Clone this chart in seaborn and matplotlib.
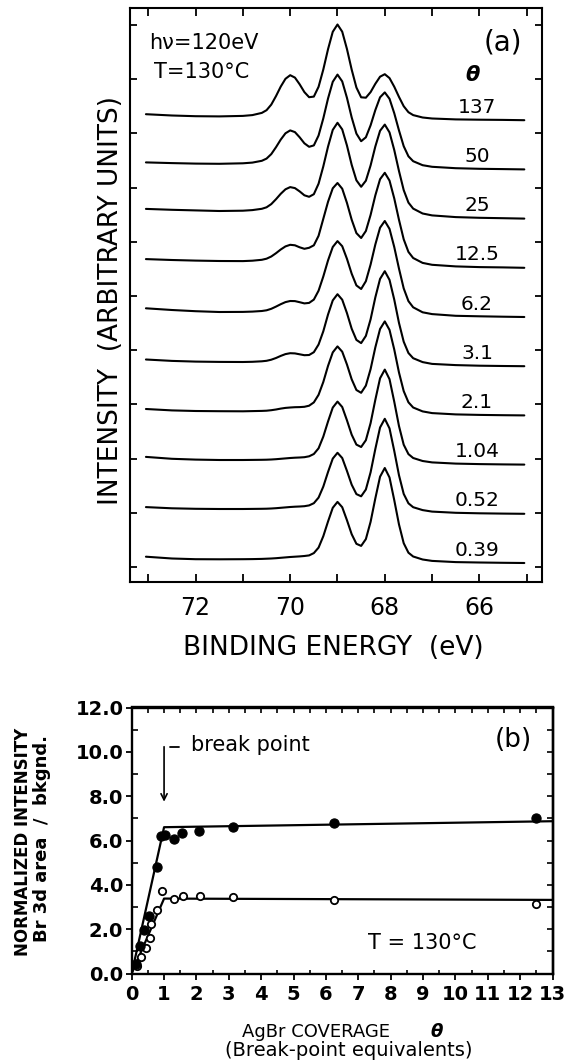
import numpy as np
import pandas as pd
import matplotlib
matplotlib.use("Agg")
import matplotlib.pyplot as plt
import seaborn as sns

# ---------------- panel (a): Br 3d spectra (height above each trace's right-end baseline) ----------------
energy = [73.05, 72.5, 72.0, 71.5, 71.0, 70.8, 70.6, 70.5, 70.4, 70.3, 70.2, 70.1, 70.0, 69.9, 69.8,
          69.7, 69.6, 69.5, 69.4, 69.3, 69.2, 69.1, 69.0, 68.9, 68.8, 68.7, 68.6, 68.5, 68.4, 68.3,
          68.2, 68.1, 68.0, 67.9, 67.8, 67.7, 67.6, 67.5, 67.4, 67.2, 67.0, 66.5, 66.0, 65.5, 65.05]

coverage_labels = ["0.39", "0.52", "1.04", "2.1", "3.1", "6.2", "12.5", "25", "50", "137"]

h_0p39 = [6.3, 4.5, 3.8, 3.7, 3.8, 3.9, 4.1, 4.3, 4.5, 4.8, 5.2, 5.6, 6.0, 6.3, 6.6,
          7.0, 7.6, 9.9, 15.4, 26.8, 41.5, 55.2, 61.1, 55.8, 42.8, 28.8, 19.2, 17.1, 23.9, 41.2,
          64.6, 86.3, 95.0, 85.5, 62.9, 38.6, 19.8, 10.3, 6.5, 3.5, 2.1, 0.9, 0.5, 0.2, 0.0]
h_0p52 = [6.7, 5.5, 5.0, 4.8, 4.8, 4.9, 5.0, 5.1, 5.3, 5.6, 6.0, 6.4, 6.8, 7.1, 7.3,
          7.6, 8.4, 10.6, 16.2, 27.2, 41.8, 55.2, 61.0, 55.8, 42.9, 29.1, 19.7, 17.5, 24.3, 41.5,
          64.8, 86.3, 95.0, 85.4, 62.9, 38.6, 19.9, 10.5, 6.6, 3.7, 2.2, 1.0, 0.5, 0.2, 0.0]
h_1p04 = [7.7, 5.8, 5.0, 4.6, 4.6, 4.7, 4.8, 4.9, 5.1, 5.4, 5.8, 6.2, 6.6, 6.9, 7.1,
          7.4, 8.3, 10.6, 16.3, 28.0, 43.1, 57.0, 63.0, 57.6, 44.3, 29.9, 20.0, 17.6, 24.4, 41.5,
          64.8, 86.3, 95.0, 85.4, 62.9, 38.6, 19.9, 10.5, 6.6, 3.6, 2.2, 1.0, 0.5, 0.2, 0.0]
h_2p1 = [6.4, 5.0, 4.4, 4.2, 4.1, 4.3, 4.5, 4.7, 5.2, 5.9, 6.8, 7.5, 7.9, 8.2, 8.3,
         8.6, 9.7, 13.0, 20.6, 33.4, 49.5, 63.0, 69.0, 63.7, 50.9, 36.1, 25.4, 22.6, 29.8, 46.3,
         68.0, 86.4, 94.0, 85.5, 65.9, 42.9, 24.3, 13.1, 7.9, 4.0, 2.3, 1.0, 0.5, 0.2, 0.0]
h_3p1 = [6.7, 5.3, 4.6, 4.3, 4.2, 4.4, 4.9, 5.4, 6.5, 8.2, 10.3, 12.1, 13.0, 12.8, 11.9,
         11.0, 11.2, 14.0, 21.7, 34.9, 51.7, 65.8, 72.0, 66.5, 53.1, 37.5, 26.3, 23.1, 30.3, 46.9,
         68.8, 87.3, 95.0, 86.3, 66.6, 43.3, 24.5, 13.2, 8.0, 4.1, 2.3, 1.1, 0.5, 0.2, 0.0]
h_6p2 = [8.7, 7.0, 5.8, 5.0, 5.1, 5.4, 6.0, 6.7, 8.2, 10.4, 12.8, 14.9, 16.0, 15.9, 14.8,
         13.6, 14.1, 17.4, 26.3, 40.5, 56.6, 70.0, 75.9, 70.8, 58.2, 43.3, 31.6, 28.0, 35.8, 52.5,
         72.5, 89.3, 96.0, 88.1, 70.0, 48.4, 28.6, 15.9, 9.7, 4.7, 2.9, 1.2, 0.7, 0.3, 0.0]
h_12p5 = [8.7, 7.8, 7.2, 6.8, 6.7, 7.1, 8.0, 9.1, 11.3, 14.6, 18.3, 21.4, 23.0, 22.5, 20.5,
          19.0, 20.0, 22.5, 32.0, 49.0, 66.0, 79.5, 84.8, 79.1, 64.9, 48.1, 34.7, 29.8, 36.8, 52.9,
          72.4, 88.6, 95.0, 87.2, 69.4, 48.0, 28.5, 15.9, 9.8, 4.9, 3.0, 1.4, 0.7, 0.4, 0.0]
h_25 = [9.7, 8.8, 8.2, 7.6, 7.9, 8.5, 9.8, 11.3, 14.5, 19.4, 24.8, 29.3, 31.5, 30.5, 27.2,
        23.3, 21.8, 24.4, 34.9, 52.2, 72.0, 88.7, 95.8, 89.2, 73.1, 53.8, 38.3, 31.8, 37.9, 53.2,
        72.1, 87.8, 94.0, 86.2, 68.6, 47.6, 28.5, 16.0, 10.0, 5.1, 3.2, 1.5, 0.8, 0.4, 0.0]
h_50 = [7.0, 6.3, 5.8, 5.6, 6.1, 6.8, 8.6, 10.8, 15.3, 22.2, 29.8, 36.1, 39.0, 37.3, 32.1,
        26.1, 22.6, 24.0, 33.9, 51.0, 70.9, 87.6, 94.8, 88.0, 71.6, 52.0, 35.8, 28.2, 32.1, 44.1,
        59.3, 72.1, 77.0, 70.6, 56.2, 39.0, 23.2, 13.1, 8.2, 4.2, 2.6, 1.2, 0.6, 0.3, 0.0]
h_137 = [6.0, 4.7, 4.0, 3.8, 4.3, 5.1, 7.3, 10.0, 15.6, 24.1, 33.6, 41.4, 45.0, 42.6, 35.9,
         28.1, 23.0, 23.6, 33.4, 50.7, 71.0, 88.4, 95.7, 88.5, 71.2, 50.6, 32.7, 22.9, 22.5, 28.1,
         36.4, 43.5, 46.0, 42.1, 33.5, 23.3, 14.0, 8.0, 5.1, 2.7, 1.7, 0.8, 0.5, 0.3, 0.0]

xticks_a = [72, 70, 68, 66]

# ---------------- panel (b): normalized intensity vs coverage ----------------
theta_filled = [0.13, 0.26, 0.39, 0.52, 0.78, 0.91, 1.04, 1.30, 1.56, 2.08, 3.12, 6.24, 12.5]
area_filled = [0.45, 1.25, 1.95, 2.58, 4.82, 6.22, 6.25, 6.07, 6.33, 6.42, 6.62, 6.77, 7.02]
theta_open = [0.15, 0.30, 0.43, 0.55, 0.60, 0.77, 0.93, 1.30, 1.57, 2.10, 3.14, 6.26, 12.5]
area_open = [0.35, 0.75, 1.16, 1.58, 2.25, 2.87, 3.71, 3.38, 3.50, 3.49, 3.43, 3.33, 3.15]
fit_theta = [0.0, 1.0, 13.0]
fit_filled = [0.0, 6.6, 6.87]
fit_open = [0.0, 3.38, 3.32]
yticklabels_b = ["0.0", "2.0", "4.0", "6.0", "8.0", "10.0", "12.0"]

# ---------------- styling ----------------
sns.set_theme(style="ticks")
plt.rcParams["font.family"] = ["DejaVu Sans"]
plt.rcParams["axes.linewidth"] = 1.5
plt.rcParams["axes.edgecolor"] = "black"
plt.rcParams["xtick.color"] = "black"
plt.rcParams["ytick.color"] = "black"
plt.rcParams["text.color"] = "black"

W, H = 566, 1062
fig = plt.figure(figsize=(W / 100, H / 100), dpi=100)
fig.patch.set_facecolor("white")

def fx(px):
    return px / W

def fy(py):
    return 1 - py / H

axa = fig.add_axes([fx(130), fy(582), (542 - 130) / W, (582 - 8) / H])
axb = fig.add_axes([fx(131.7), fy(973.5), (552.5 - 131.7) / W, (973.5 - 707.5) / H])

# ---------- panel (a) ----------
spectra = [h_0p39, h_0p52, h_1p04, h_2p1, h_3p1, h_6p2, h_12p5, h_25, h_50, h_137]
step = 49.2
base0 = 19.0
rows = []
for i, (lab, h) in enumerate(zip(coverage_labels, spectra)):
    off = base0 + step * i
    for e, v in zip(energy, h):
        rows.append((lab, e, off + v))
df_a = pd.DataFrame(rows, columns=["coverage", "energy", "intensity"])

sns.lineplot(data=df_a, x="energy", y="intensity", units="coverage", estimator=None,
             color="black", lw=1.5, ax=axa, legend=False, sort=True)

for i, lab in enumerate(coverage_labels):
    axa.text(66.05, base0 + step * i + 13, lab, ha="center", va="center", fontsize=14.5)

axa.set_xlim(73.387, 64.676)
axa.set_ylim(0, 574)
axa.set_xticks(xticks_a)
axa.set_xticklabels([str(v) for v in xticks_a])
axa.set_xticks([73, 71, 69, 67, 65], minor=True)
axa.tick_params(axis="x", which="both", direction="in", top=True, bottom=True,
                length=5.5, width=1.3, labelsize=17, pad=10)
axa.set_yticks([15 + 54.2 * k for k in range(11)])
axa.set_yticklabels([])
axa.tick_params(axis="y", which="both", direction="in", left=True, right=True,
                length=5, width=1.3)
axa.set_xlabel("")
axa.set_ylabel("")
for s in axa.spines.values():
    s.set_linewidth(1.5)

axa.text(72.99, 539, "h\u03bd=120eV", ha="left", va="center", fontsize=15)
axa.text(72.88, 510, "T=130\u00b0C", ha="left", va="center", fontsize=15)
axa.text(65.51, 539, "(a)", ha="center", va="center", fontsize=20)
axa.text(66.14, 507, "\u03b8", ha="center", va="center", fontsize=15,
         fontweight="bold", fontstyle="italic")

fig.text(fx(333.5), fy(648), "BINDING ENERGY  (eV)", ha="center", va="center", fontsize=19)
fig.text(fx(111), fy(300), "INTENSITY  (ARBITRARY UNITS)", ha="center", va="center",
         fontsize=19, rotation=90)

# ---------- panel (b) ----------
df_fit = pd.DataFrame({
    "theta": fit_theta + fit_theta,
    "value": fit_filled + fit_open,
    "series": ["filled"] * 3 + ["open"] * 3,
})
sns.lineplot(data=df_fit, x="theta", y="value", units="series", estimator=None,
             color="black", lw=1.6, ax=axb, legend=False, sort=False, zorder=2)

sns.scatterplot(x=theta_filled, y=area_filled, ax=axb, s=44, color="black",
                edgecolor="black", linewidth=0.8, zorder=4, legend=False)
sns.scatterplot(x=theta_open, y=area_open, ax=axb, s=28, facecolor="white",
                edgecolor="black", linewidth=1.3, zorder=3, legend=False)

axb.set_xlim(0, 13)
axb.set_ylim(0, 12)
axb.set_xticks(range(14))
axb.set_xticklabels([str(v) for v in range(14)])
axb.set_xticks(np.arange(0.5, 13, 1.0), minor=True)
axb.tick_params(axis="x", which="major", direction="out", length=4.5, width=1.3,
                top=False, bottom=True, labelsize=14, pad=4)
axb.tick_params(axis="x", which="minor", direction="in", length=3, width=1.2,
                top=False, bottom=True)
axb.set_yticks(np.arange(0, 13, 2))
axb.set_yticklabels(yticklabels_b)
axb.set_yticks(np.arange(1, 12, 2), minor=True)
axb.tick_params(axis="y", which="major", direction="out", length=4.5, width=1.3,
                left=True, right=False, labelsize=14, pad=1.5)
axb.tick_params(axis="y", which="minor", direction="in", length=4.5, width=1.2,
                left=True, right=False)
plt.setp(axb.get_xticklabels(), fontweight="bold")
plt.setp(axb.get_yticklabels(), fontweight="bold")
axb.set_xlabel("")
axb.set_ylabel("")
for s in axb.spines.values():
    s.set_linewidth(1.7)

secx = axb.secondary_xaxis("top")
secx.set_xticks(np.arange(0, 13.01, 0.5))
secx.tick_params(axis="x", which="both", direction="in", length=4, width=1.2,
                 labeltop=False, labelbottom=False)
secx.spines["top"].set_linewidth(1.7)
secy = axb.secondary_yaxis("right")
secy.set_yticks(np.arange(0, 12.01, 1.0))
secy.tick_params(axis="y", which="both", direction="in", length=4.5, width=1.2,
                 labelright=False, labelleft=False)
secy.spines["right"].set_linewidth(1.7)

axb.text(11.8, 10.53, "(b)", ha="center", va="center", fontsize=19)
axb.text(1.83, 10.3, "break point", ha="left", va="center", fontsize=15)
axb.plot([1.17, 1.45], [10.23, 10.23], color="black", lw=1.3)
axb.annotate("", xy=(1.0, 7.75), xytext=(1.0, 10.23),
             arrowprops=dict(arrowstyle="->", color="black", lw=1.2,
                             mutation_scale=11, shrinkA=0, shrinkB=0))
axb.text(7.3, 1.36, "T = 130\u00b0C", ha="left", va="center", fontsize=15)

fig.text(fx(23.5), fy(841.7), "NORMALIZED INTENSITY", ha="center", va="center",
         fontsize=12, fontweight="bold", rotation=90)
fig.text(fx(42), fy(838), "Br 3d area  /  bkgnd.", ha="center", va="center",
         fontsize=13, fontweight="bold", rotation=90)
fig.text(fx(315.8), fy(1031.7), "AgBr COVERAGE", ha="center", va="center", fontsize=13)
fig.text(fx(436.7), fy(1031.7), "\u03b8", ha="center", va="center", fontsize=13,
         fontweight="bold", fontstyle="italic")
fig.text(fx(348.5), fy(1050), "(Break-point equivalents)", ha="center", va="center",
         fontsize=14)

fig.savefig("out.png", dpi=100)
